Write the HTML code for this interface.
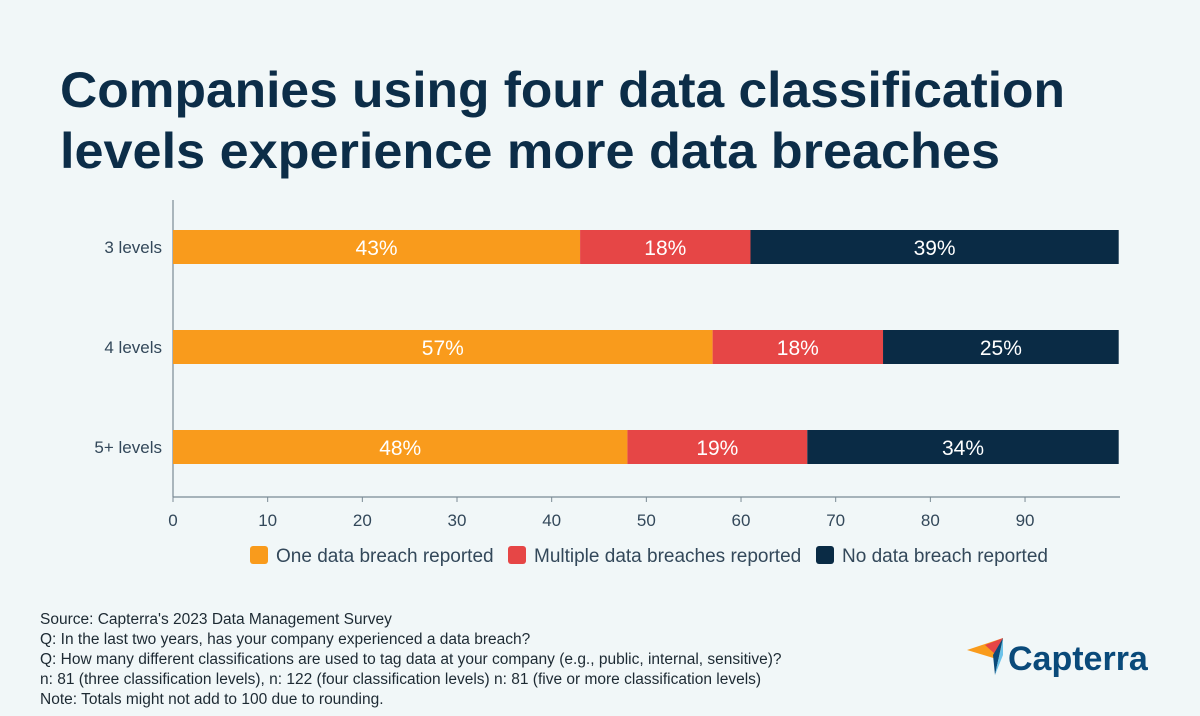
<!DOCTYPE html>
<html><head><meta charset="utf-8"><style>
body{margin:0;background:#f1f7f8;}
svg{display:block;font-family:"Liberation Sans",sans-serif;}
</style></head><body>
<svg width="1200" height="716" viewBox="0 0 1200 716">
<rect width="1200" height="716" fill="#f1f7f8"/>
<text x="60" y="107" font-size="50" font-weight="bold" fill="#0c2d48" textLength="1005" lengthAdjust="spacingAndGlyphs">Companies using four data classification</text>
<text x="60" y="168" font-size="50" font-weight="bold" fill="#0c2d48" textLength="940" lengthAdjust="spacingAndGlyphs">levels experience more data breaches</text>
<g id="plot"></g>
<g font-size="19" fill="#33485a">
<rect x="250" y="546" width="18" height="18" rx="3" fill="#f99b1c"/><text x="276" y="562">One data breach reported</text>
<rect x="508" y="546" width="18" height="18" rx="3" fill="#e64646"/><text x="534" y="562">Multiple data breaches reported</text>
<rect x="816" y="546" width="18" height="18" rx="3" fill="#0a2b45"/><text x="842" y="562">No data breach reported</text>
</g>
<g font-size="15.5" fill="#1d2a33">
<text x="40" y="624">Source: Capterra's 2023 Data Management Survey</text>
<text x="40" y="644">Q: In the last two years, has your company experienced a data breach?</text>
<text x="40" y="664">Q: How many different classifications are used to tag data at your company (e.g., public, internal, sensitive)?</text>
<text x="40" y="684">n: 81 (three classification levels), n: 122 (four classification levels) n: 81 (five or more classification levels)</text>
<text x="40" y="704">Note: Totals might not add to 100 due to rounding.</text>
</g>
<g>
<polygon points="967,650 1003,638 1000,660" fill="#f99b1c"/>
<polygon points="985,645 1003,638 995,654" fill="#e64646"/>
<polygon points="1003,638 993,655 995,675" fill="#0a4a7a"/>
<polygon points="1003,638 995,675 1003,655" fill="#6cc3ea"/>
<text x="1008" y="670" font-size="34" font-weight="bold" fill="#0a4a7a">Capterra</text>
</g>
</svg>
<script>
const categories=["3 levels","4 levels","5+ levels"];
const oneBreach=[43,57,48];
const multiBreach=[18,18,19];
const noBreach=[39,25,34];
const ticks=[0,10,20,30,40,50,60,70,80,90];
const NS="http://www.w3.org/2000/svg";
const g=document.getElementById('plot');
const x=v=>173+v*9.467;
const yc=i=>247+i*100;
function mk(t,a){const e=document.createElementNS(NS,t);for(const k in a)e.setAttribute(k,a[k]);g.appendChild(e);return e;}
const ax=mk('line',{x1:173,y1:200,x2:173,y2:497,stroke:'#7a8a94','stroke-width':1.2});


const bx=mk('line',{x1:173,y1:497,x2:1120,y2:497,stroke:'#7a8a94','stroke-width':1.2});


ticks.forEach(t=>{
 mk('line',{x1:x(t),y1:497,x2:x(t),y2:502,stroke:'#7a8a94'});
 const l=mk('text',{x:x(t),y:526,'font-size':17,'text-anchor':'middle',fill:'#33485a'});l.textContent=t;
 
 
});
const series=[[oneBreach,'#f99b1c','one-breach'],[multiBreach,'#e64646','multiple-breaches'],[noBreach,'#0a2b45','no-breach']];
categories.forEach((c,i)=>{
 const cl=mk('text',{x:162,y:yc(i)+6,'font-size':17,'text-anchor':'end',fill:'#33485a'});cl.textContent=c;
 
 
 let acc=0;
 series.forEach(([arr,col,nm])=>{
  const v=arr[i];const x0=x(acc);const x1=Math.min(x(acc+v),x(100)-1);
  const r=mk('rect',{x:x0,y:yc(i)-17,width:x1-x0,height:34,fill:col});
  
  
  const t=mk('text',{x:(x0+x1)/2,y:yc(i)+8,'font-size':21,'text-anchor':'middle',fill:'#fff'});t.textContent=v+'%';
  
  
  acc+=v;
 });
});
</script>
</body></html>
